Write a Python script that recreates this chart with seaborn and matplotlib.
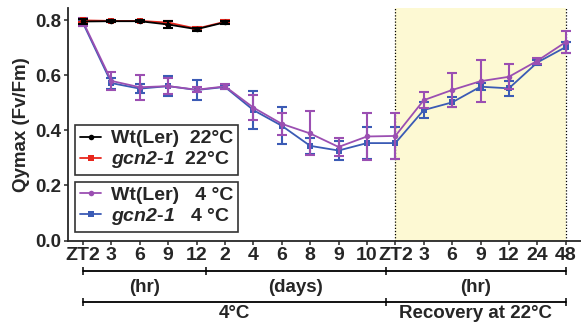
import numpy as np
import pandas as pd
import matplotlib
matplotlib.use("Agg")
import matplotlib.pyplot as plt
import matplotlib.transforms as mtransforms
from matplotlib.lines import Line2D
import seaborn as sns

# ─── DATA ─────────────────────────────────────────────────
x_labels = ["ZT2", "3", "6", "9", "12", "2", "4", "6", "8", "9", "10",
            "ZT2", "3", "6", "9", "12", "24", "48"]

wt22 = [0.796, 0.797, 0.797, 0.785, 0.768, 0.793]
wt22_err = [0.008, 0.004, 0.004, 0.012, 0.005, 0.005]
gcn22 = [0.800, 0.798, 0.798, 0.792, 0.770, 0.795]
gcn22_err = [0.006, 0.004, 0.004, 0.005, 0.005, 0.005]

wt4 = [0.795, 0.580, 0.557, 0.561, 0.548, 0.560, 0.483, 0.424, 0.389, 0.340,
       0.378, 0.380, 0.510, 0.547, 0.579, 0.595, 0.653, 0.721]
wt4_err = [0.015, 0.033, 0.045, 0.030, 0.010, 0.008, 0.045, 0.040, 0.080, 0.033,
           0.084, 0.083, 0.030, 0.062, 0.077, 0.045, 0.012, 0.040]
gcn4 = [0.790, 0.572, 0.552, 0.561, 0.547, 0.558, 0.474, 0.417, 0.344, 0.327,
        0.354, 0.354, 0.474, 0.502, 0.559, 0.553, 0.647, 0.703]
gcn4_err = [0.012, 0.020, 0.015, 0.037, 0.036, 0.008, 0.070, 0.067, 0.030, 0.033,
            0.058, 0.058, 0.030, 0.018, 0.012, 0.028, 0.010, 0.020]

recovery_start, recovery_end = 11, 17

# group brackets below the axis (row 1: units, row 2: condition)
unit_bounds = [0, 4.32, 10.66, 17]
unit_labels = ["(hr)", "(days)", "(hr)"]
cond_bounds = [0, 10.66, 17]
cond_labels = ["4°C", "Recovery at 22°C"]

# ─── STYLE ────────────────────────────────────────────────
sns.set_style("ticks")
plt.rcParams["font.family"] = ["Liberation Sans", "DejaVu Sans"]
plt.rcParams["font.weight"] = "bold"
plt.rcParams["mathtext.fontset"] = "custom"
plt.rcParams["mathtext.bfit"] = "Liberation Sans:italic:bold"

C_BLACK = "#000000"
C_RED = "#e8261c"
C_PURPLE = "#9b4fb2"
C_BLUE = "#3b5bb5"

fig = plt.figure(figsize=(5.81, 3.23), dpi=100)
ax = fig.add_axes([68 / 581, 1 - 240.5 / 323, 513 / 581, 232.5 / 323])

ax.axvspan(recovery_start, recovery_end, color="#fdf9d3", zorder=0, lw=0)
for xv in (recovery_start, recovery_end):
    ax.axvline(xv, color="k", ls=(0, (1, 1.5)), lw=0.9, zorder=1)

series = [
    ("gcn2-1 4", gcn4, gcn4_err, C_BLUE, "s"),
    ("Wt 4", wt4, wt4_err, C_PURPLE, "o"),
    ("gcn2-1 22", gcn22, gcn22_err, C_RED, "s"),
    ("Wt 22", wt22, wt22_err, C_BLACK, "o"),
]
for name, vals, errs, col, mk in series:
    df = pd.DataFrame({"pos": np.arange(len(vals)), "val": vals})
    sns.lineplot(data=df, x="pos", y="val", ax=ax, color=col, lw=1.3,
                 marker=mk, markersize=4, markeredgewidth=0, zorder=3)
    ax.errorbar(df["pos"], df["val"], yerr=errs, fmt="none", ecolor=col,
                elinewidth=1.5, capsize=3.5, capthick=1.5, zorder=3)

ax.set_xlim(-0.53, 17.54)
ax.set_ylim(0, 0.845)
ax.set_xticks(np.arange(len(x_labels)))
ax.set_xticklabels(x_labels, fontsize=14, fontweight="bold")
ax.set_yticks([0, 0.2, 0.4, 0.6, 0.8])
ax.set_yticklabels(["0.0", "0.2", "0.4", "0.6", "0.8"], fontsize=13.5, fontweight="bold")
ax.tick_params(axis="both", length=3, width=1.1, pad=1.5, direction="out")
ax.set_xlabel("")
ax.set_ylabel("Qymax (Fv/Fm)", fontsize=13.5, fontweight="bold", labelpad=4)
sns.despine(ax=ax)
for s in ("left", "bottom"):
    ax.spines[s].set_linewidth(1.3)

# ─── LEGENDS ──────────────────────────────────────────────
def handle(col, mk):
    return Line2D([], [], color=col, lw=1.3, marker=mk, markersize=4, markeredgewidth=0)

leg_kw = dict(loc="upper left", frameon=True, fancybox=False, handlelength=1.1,
              handletextpad=0.5, borderpad=0.25, labelspacing=0.1, borderaxespad=0,
              prop={"size": 14, "weight": "bold"})
leg1 = ax.legend([handle(C_BLACK, "o"), handle(C_RED, "s")],
                 ["Wt(Ler)  22°C", r"$\mathbfit{gcn2}$-$\mathbfit{1}$  22°C"],
                 bbox_to_anchor=(0.0136, 0.497), **leg_kw)
leg1.get_frame().set_edgecolor("k")
leg1.get_frame().set_linewidth(1.2)
ax.add_artist(leg1)
leg2 = ax.legend([handle(C_PURPLE, "o"), handle(C_BLUE, "s")],
                 ["Wt(Ler)   4 °C", r"$\mathbfit{gcn2}$-$\mathbfit{1}$   4 °C"],
                 bbox_to_anchor=(0.0136, 0.253), **leg_kw)
leg2.get_frame().set_edgecolor("k")
leg2.get_frame().set_linewidth(1.2)

# ─── BRACKETS BELOW AXIS ──────────────────────────────────
trans = mtransforms.blended_transform_factory(ax.transData, ax.transAxes)

def bracket_row(bounds, labels, y_line, y_text):
    ax.plot([bounds[0], bounds[-1]], [y_line, y_line], color="k", lw=1.3,
            transform=trans, clip_on=False)
    ax.plot(bounds, [y_line] * len(bounds), ls="none", marker="|", ms=6, mew=1.1,
            color="k", transform=trans, clip_on=False)
    for lo, hi, lab in zip(bounds[:-1], bounds[1:], labels):
        ax.text((lo + hi) / 2, y_text, lab, transform=trans, ha="center", va="center",
                fontsize=13.5, fontweight="bold", clip_on=False)

bracket_row(unit_bounds, unit_labels, -0.133, -0.204)
bracket_row(cond_bounds, cond_labels, -0.2645, -0.312)

fig.savefig("out.png", dpi=100)
